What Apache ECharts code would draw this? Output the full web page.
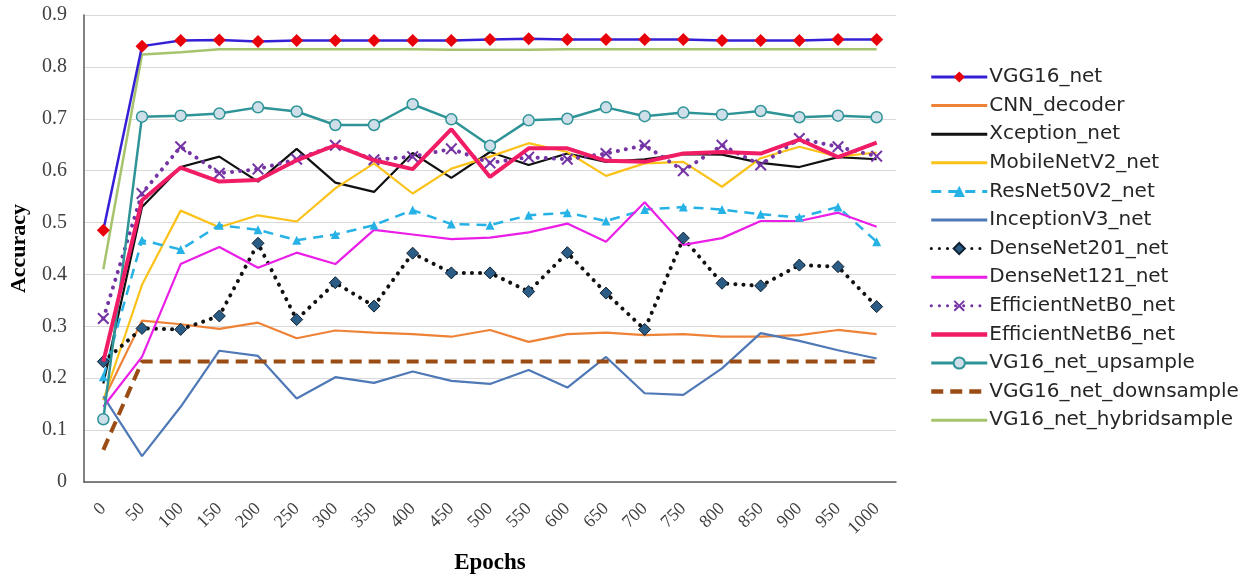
<!DOCTYPE html>
<html>
<head>
<meta charset="utf-8">
<script src="https://cdn.jsdelivr.net/npm/echarts@6/dist/echarts.min.js"></script>
<style>html,body{margin:0;padding:0;background:#fff;}#c{width:1255px;height:581px;}</style>
</head>
<body>
<div id="c"></div>
<script>
const epochs = ['0','50','100','150','200','250','300','350','400','450','500','550','600','650','700','750','800','850','900','950','1000'];
const vgg16 = [0.485,0.840,0.851,0.852,0.849,0.851,0.851,0.851,0.851,0.851,0.853,0.854,0.853,0.853,0.853,0.853,0.851,0.851,0.851,0.853,0.853];
const cnnDecoder = [0.158,0.311,0.304,0.295,0.307,0.277,0.292,0.288,0.285,0.280,0.293,0.270,0.285,0.288,0.283,0.285,0.280,0.280,0.283,0.293,0.285];
const xception = [0.190,0.530,0.607,0.627,0.579,0.642,0.577,0.559,0.634,0.586,0.636,0.611,0.633,0.617,0.622,0.632,0.631,0.615,0.607,0.626,0.622];
const mobileNetV2 = [0.158,0.380,0.523,0.491,0.514,0.502,0.566,0.614,0.556,0.604,0.627,0.653,0.636,0.590,0.614,0.617,0.569,0.624,0.646,0.627,0.635];
const resNet50V2 = [0.203,0.466,0.448,0.495,0.486,0.466,0.477,0.495,0.524,0.497,0.495,0.514,0.519,0.503,0.525,0.530,0.525,0.516,0.510,0.530,0.463];
const inceptionV3 = [0.165,0.050,0.145,0.253,0.243,0.161,0.202,0.191,0.213,0.195,0.189,0.216,0.182,0.241,0.171,0.168,0.219,0.287,0.272,0.254,0.238];
const denseNet201 = [0.232,0.296,0.294,0.320,0.460,0.313,0.384,0.339,0.441,0.403,0.403,0.367,0.442,0.364,0.294,0.470,0.383,0.378,0.418,0.415,0.338];
const denseNet121 = [0.145,0.241,0.420,0.453,0.413,0.442,0.420,0.486,0.477,0.468,0.471,0.481,0.498,0.463,0.539,0.457,0.470,0.503,0.503,0.519,0.492];
const efficientNetB0 = [0.315,0.556,0.646,0.595,0.603,0.622,0.649,0.621,0.627,0.642,0.615,0.626,0.622,0.633,0.649,0.600,0.649,0.611,0.662,0.646,0.628];
const efficientNetB6 = [0.232,0.543,0.606,0.579,0.582,0.620,0.649,0.620,0.603,0.680,0.588,0.643,0.643,0.619,0.617,0.633,0.636,0.633,0.660,0.626,0.654];
const upsample = [0.121,0.704,0.706,0.710,0.722,0.714,0.688,0.688,0.728,0.699,0.648,0.697,0.700,0.722,0.705,0.712,0.708,0.715,0.703,0.706,0.703];
const downsample = [0.062,0.232,0.232,0.232,0.232,0.232,0.232,0.232,0.232,0.232,0.232,0.232,0.232,0.232,0.232,0.232,0.232,0.232,0.232,0.232,0.232];
const hybridsample = [0.410,0.824,0.828,0.834,0.834,0.834,0.834,0.834,0.834,0.833,0.833,0.833,0.834,0.834,0.834,0.834,0.834,0.834,0.834,0.834,0.834];

const xMark = 'path://M0,1.2 L1.2,0 L5,3.8 L8.8,0 L10,1.2 L6.2,5 L10,8.8 L8.8,10 L5,6.2 L1.2,10 L0,8.8 L3.8,5 Z';

function plain(name, data, color, width, extra) {
  return Object.assign({
    name: name, type: 'line', data: data, symbol: 'none', showSymbol: false,
    lineStyle: {color: color, width: width}, itemStyle: {color: color}
  }, extra || {});
}

const series = [
  plain('VG16_net_hybridsample', hybridsample, '#a6c36d', 2.5, {z: 2}),
  {name:'VGG16_net', type:'line', data: vgg16, symbol:'diamond', symbolSize: 13, z: 5,
   lineStyle:{color:'#3520d6', width:2.5}, itemStyle:{color:'#e8000b'}},
  plain('CNN_decoder', cnnDecoder, '#ee8237', 2.2),
  plain('Xception_net', xception, '#111111', 2.2),
  plain('MobileNetV2_net', mobileNetV2, '#fbc21a', 2.2),
  {name:'ResNet50V2_net', type:'line', data: resNet50V2, symbol:'triangle', symbolSize: 9,
   lineStyle:{color:'#27b2e6', width:2.5, type:[10,7]}, itemStyle:{color:'#27b2e6'}},
  plain('InceptionV3_net', inceptionV3, '#4f78b6', 2.2),
  {name:'DenseNet201_net', type:'line', data: denseNet201, symbol:'diamond', symbolSize: 12,
   lineStyle:{color:'#111111', width:4, type:[0.1,8], cap:'round'},
   itemStyle:{color:'#2a5c86', borderColor:'#102030', borderWidth:1}},
  plain('DenseNet121_net', denseNet121, '#ea1ee6', 2.2),
  {name:'EfficientNetB0_net', type:'line', data: efficientNetB0, symbol: xMark, symbolSize: 12,
   lineStyle:{color:'#7434a4', width:4, type:[0.1,8], cap:'round'}, itemStyle:{color:'#7434a4'}},
  plain('EfficientNetB6_net', efficientNetB6, '#f01c66', 4, {z: 4}),
  {name:'VG16_net_upsample', type:'line', data: upsample, symbol:'circle', symbolSize: 11,
   lineStyle:{color:'#2f9497', width:2.5}, itemStyle:{color:'#cfdfe9', borderColor:'#2f9497', borderWidth:1.5}},
  plain('VGG16_net_downsample', downsample, '#9a4c14', 4, {lineStyle:{color:'#9a4c14', width:4, type:[12,7]}})
];

const legendOrder = ['VGG16_net','CNN_decoder','Xception_net','MobileNetV2_net','ResNet50V2_net','InceptionV3_net','DenseNet201_net','DenseNet121_net','EfficientNetB0_net','EfficientNetB6_net','VG16_net_upsample','VGG16_net_downsample','VG16_net_hybridsample'];
const withMarker = ['VGG16_net','ResNet50V2_net','DenseNet201_net','EfficientNetB0_net','VG16_net_upsample'];
const thickLegend = ['EfficientNetB6_net','VGG16_net_downsample'];
const legendData = legendOrder.map(function(n){
  const item = {name: n, lineStyle: {width: thickLegend.indexOf(n) >= 0 ? 4.5 : 3}};
  if (withMarker.indexOf(n) < 0) item.itemStyle = {opacity: 0, color: 'rgba(0,0,0,0)', borderWidth: 0};
  return item;
});

const chart = echarts.init(document.getElementById('c'), null, {renderer:'canvas'});
chart.setOption({
  animation: false,
  backgroundColor: '#ffffff',
  grid: {left: 82, right: 359, top: 15, bottom: 99, containLabel: false},
  legend: {
    data: legendData, orient: 'vertical', left: 924, top: 62,
    itemWidth: 56, itemHeight: 14, itemGap: 8.6,
    textStyle: {fontFamily: 'DejaVu Sans', fontSize: 20, color: '#262626', padding: [0,0,0,-3]}
  },
  xAxis: {
    type: 'category', data: epochs, boundaryGap: true,
    name: 'Epochs', nameLocation: 'middle', nameGap: 70,
    nameTextStyle: {fontFamily: 'Liberation Serif', fontWeight: 'bold', fontSize: 23, color: '#000'},
    axisLine: {lineStyle: {color: '#595959', width: 1.5}},
    axisTick: {show: false},
    axisLabel: {rotate: 45, margin: 24, fontFamily: 'Liberation Serif', fontSize: 18, color: '#404040', interval: 0}
  },
  yAxis: {
    type: 'value', min: 0, max: 0.9, interval: 0.1,
    name: 'Accuracy', nameLocation: 'middle', nameGap: 54, nameRotate: 90,
    nameTextStyle: {fontFamily: 'Liberation Serif', fontWeight: 'bold', fontSize: 22, color: '#000'},
    axisLine: {show: true, lineStyle: {color: '#595959', width: 1.5}},
    axisTick: {show: false},
    splitLine: {lineStyle: {color: '#d9d9d9', width: 1.2}},
    axisLabel: {margin: 17, fontFamily: 'Liberation Serif', fontSize: 20, color: '#404040',
      formatter: function(v){ return v === 0 ? '0' : v.toFixed(1); }}
  },
  series: series
});
</script>
</body>
</html>
